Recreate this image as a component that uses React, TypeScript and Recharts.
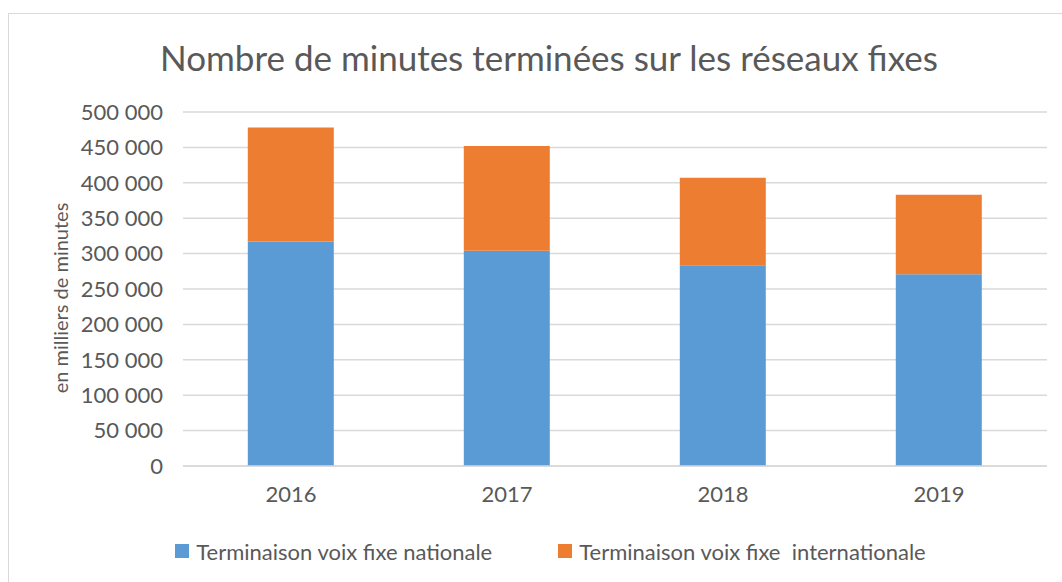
import { Bar, BarChart, CartesianGrid, Legend, XAxis, YAxis } from "recharts"

const years = ["2016", "2017", "2018", "2019"]
const nationale = [317000, 304000, 283500, 271000]
const internationale = [161000, 148000, 123500, 112000]
const yTicks = [0, 50000, 100000, 150000, 200000, 250000, 300000, 350000, 400000, 450000, 500000]

const SERIES = [
    { key: "nationale", name: "Terminaison voix fixe nationale", color: "#5B9BD5" },
    { key: "internationale", name: "Terminaison voix fixe  internationale", color: "#ED7D31" },
]

const FONT = "Lato, 'Open Sans', sans-serif"
const TEXT = "#595959"

const data = years.map((year, i) => ({
    year,
    nationale: nationale[i],
    internationale: internationale[i],
}))

const formatNumber = (v: number) => `${v}`.replace(/\B(?=(\d{3})+(?!\d))/g, " ")

function ChartLegend() {
    return (
        <div style={{ height: 30, display: "flex", justifyContent: "center", alignItems: "center", paddingLeft: 46, fontFamily: FONT, fontSize: 22, color: TEXT, whiteSpace: "pre" }}>
            {SERIES.map((s, i) => (
                <div key={s.key} style={{ display: "flex", alignItems: "center", marginLeft: i > 0 ? 66 : 0 }}>
                    <span style={{ width: 14, height: 14, background: s.color, marginRight: 7, display: "inline-block" }} />
                    <span>{s.name}</span>
                </div>
            ))}
        </div>
    )
}

export default function App() {
    return (
        <div style={{ position: "absolute", left: 0, top: 0, width: 1062, height: 582, background: "#fff", overflow: "hidden" }}>
            <div style={{ position: "absolute", left: 8, top: 13, width: 1100, height: 600, borderLeft: "1px solid #d9d9d9", borderTop: "1px solid #d9d9d9" }} />
            <div style={{ position: "absolute", left: 18, top: 36, width: 1062, textAlign: "center", fontFamily: FONT, fontSize: 35, color: TEXT }}>
                Nombre de minutes terminées sur les réseaux fixes
            </div>
            <BarChart width={1062} height={582} data={data} margin={{ top: 112, right: 15, bottom: 16, left: 8 }} barCategoryGap="30%">
                <CartesianGrid vertical={false} stroke="#d9d9d9" strokeWidth={1.5} />
                <XAxis dataKey="year" height={70} tickLine={false} axisLine={{ stroke: "#d9d9d9", strokeWidth: 1.5 }}
                    tick={{ fill: TEXT, fontSize: 22, fontFamily: FONT }} tickMargin={14} />
                <YAxis width={175} domain={[0, 500000]} ticks={yTicks} interval={0} tickFormatter={formatNumber}
                    axisLine={false} tickLine={false} tickMargin={14}
                    tick={{ fill: TEXT, fontSize: 22, fontFamily: FONT }}
                    label={{ value: "en milliers de minutes", angle: -90, position: "center", dx: -35, dy: 9, fill: TEXT, fontSize: 20, fontFamily: FONT }} />
                <Legend verticalAlign="bottom" content={() => <ChartLegend />} />
                {SERIES.map((s) => (
                    <Bar key={s.key} dataKey={s.key} name={s.name} stackId="a" fill={s.color} isAnimationActive={false} />
                ))}
            </BarChart>
        </div>
    )
}
